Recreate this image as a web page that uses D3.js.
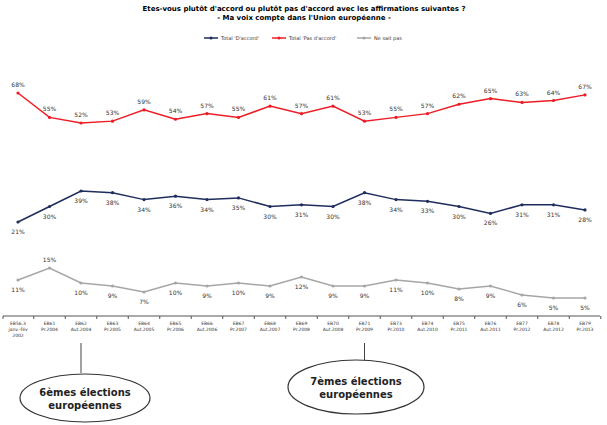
<!DOCTYPE html>
<meta charset="utf-8">
<style>body{margin:0;background:#fff} text{font-family:"DejaVu Sans",sans-serif}</style>
<body>
<div id="chart"></div>
<script src="https://d3js.org/d3.v7.min.js"></script>
<script>
var categories = [["EB56.3","janv.-fév","2002"],["EB61","Pr.2004"],["EB62","Aut.2004"],["EB63","Pr.2005"],["EB64","Aut.2005"],["EB65","Pr.2006"],["EB66","Aut.2006"],["EB67","Pr.2007"],["EB68","Aut.2007"],["EB69","Pr.2008"],["EB70","Aut.2008"],["EB71","Pr.2009"],["EB73","Pr.2010"],["EB74","Aut.2010"],["EB75","Pr.2011"],["EB76","Aut.2011"],["EB77","Pr.2012"],["EB78","Aut.2012"],["EB79","Pr.2013"]];
var pasAccord = [68,55,52,53,59,54,57,55,61,57,61,53,55,57,62,65,63,64,67];
var accord = [21,30,39,38,34,36,34,35,30,31,30,38,34,33,30,26,31,31,28];
var nsp = [11,15,10,9,7,10,9,10,9,12,9,9,11,10,8,9,6,5,5];

var W = 607, H = 425;
var svg = d3.select("#chart").append("svg").attr("width", W).attr("height", H);

svg.append("text").attr("x", 304).attr("y", 11).attr("text-anchor", "middle")
  .attr("font-size", 7).attr("font-weight", "bold").text("Etes-vous plutôt d'accord ou plutôt pas d'accord avec les affirmations suivantes ?");
svg.append("text").attr("x", 304).attr("y", 20).attr("text-anchor", "middle")
  .attr("font-size", 7).attr("font-weight", "bold").text("- Ma voix compte dans l'Union européenne -");

var x = d3.scalePoint().domain(d3.range(categories.length)).range([18, 585]);
// the original chart has a broken value axis: each series sits in its own band
var y = d3.scaleLinear().domain([5, 15, 21, 39, 52, 68]).range([298, 268, 222, 191, 123, 93]);

var series = [
  {name: "Total 'D'accord'", values: accord, color: "#1f2d5e", dy: 12},
  {name: "Total 'Pas d'accord'", values: pasAccord, color: "#ee1c25", dy: -6},
  {name: "Ne sait pas", values: nsp, color: "#a6a6a6", dy: 12}
];

// legend
var lx = [204, 272, 357];
series.forEach(function(s, i) {
  var g = svg.append("g").attr("transform", "translate(" + lx[i] + ",38)");
  g.append("line").attr("x1", 0).attr("x2", 14).attr("stroke", s.color).attr("stroke-width", 1.5);
  g.append("circle").attr("cx", 7).attr("r", 1.5).attr("fill", s.color);
  g.append("text").attr("x", 17).attr("y", 2).attr("font-size", 5).attr("fill", "#333").text(s.name);
});

var line = d3.line().x(function(d, i) { return x(i); }).y(function(d) { return y(d); });
series.forEach(function(s) {
  svg.append("path").attr("d", line(s.values)).attr("fill", "none")
    .attr("stroke", s.color).attr("stroke-width", 1.5);
  svg.selectAll(null).data(s.values).enter().append("circle")
    .attr("cx", function(d, i) { return x(i); }).attr("cy", function(d) { return y(d); })
    .attr("r", 1.6).attr("fill", s.color);
  svg.selectAll(null).data(s.values).enter().append("text")
    .attr("x", function(d, i) { return x(i); })
    .attr("y", function(d, i) { return y(d) + (s === series[2] && i === 1 ? -6 : s.dy); })
    .attr("text-anchor", "middle").attr("font-size", 6).attr("fill", "#333")
    .text(function(d) { return d + "%"; });
});

// category axis
var axisY = 316;
svg.append("line").attr("x1", 3).attr("x2", 600).attr("y1", axisY).attr("y2", axisY).attr("stroke", "#555");
var step = x.step();
d3.range(categories.length + 1).forEach(function(i) {
  var tx = 18 - step / 2 + i * step;
  if (tx < 3) tx = 3;
  svg.append("line").attr("x1", tx).attr("x2", tx).attr("y1", axisY).attr("y2", axisY + 3).attr("stroke", "#555");
});
categories.forEach(function(c, i) {
  var t = svg.append("text").attr("x", x(i)).attr("y", axisY + 9).attr("text-anchor", "middle")
    .attr("font-size", 4.5).attr("fill", "#333");
  c.forEach(function(l, j) { t.append("tspan").attr("x", x(i)).attr("dy", j ? 6 : 0).text(l); });
});

// election callouts
var callouts = [
  {idx: 2, lines: ["6èmes élections", "européennes"], cx: 85, cy: 398, rx: 65, ry: 24, top: 373},
  {idx: 11, lines: ["7èmes élections", "européennes"], cx: 356, cy: 387, rx: 68, ry: 27, top: 360}
];
callouts.forEach(function(c) {
  svg.append("line").attr("x1", x(c.idx)).attr("x2", x(c.idx)).attr("y1", 343).attr("y2", c.top)
    .attr("stroke", "#444");
  svg.append("ellipse").attr("cx", c.cx).attr("cy", c.cy).attr("rx", c.rx).attr("ry", c.ry)
    .attr("fill", "#fff").attr("stroke", "#333").attr("stroke-width", 1.2);
  c.lines.forEach(function(l, j) {
    svg.append("text").attr("x", c.cx).attr("y", c.cy - 2 + j * 13).attr("text-anchor", "middle")
      .attr("font-size", 10).attr("font-weight", "bold").attr("fill", "#222").text(l);
  });
});
</script>
</body>
